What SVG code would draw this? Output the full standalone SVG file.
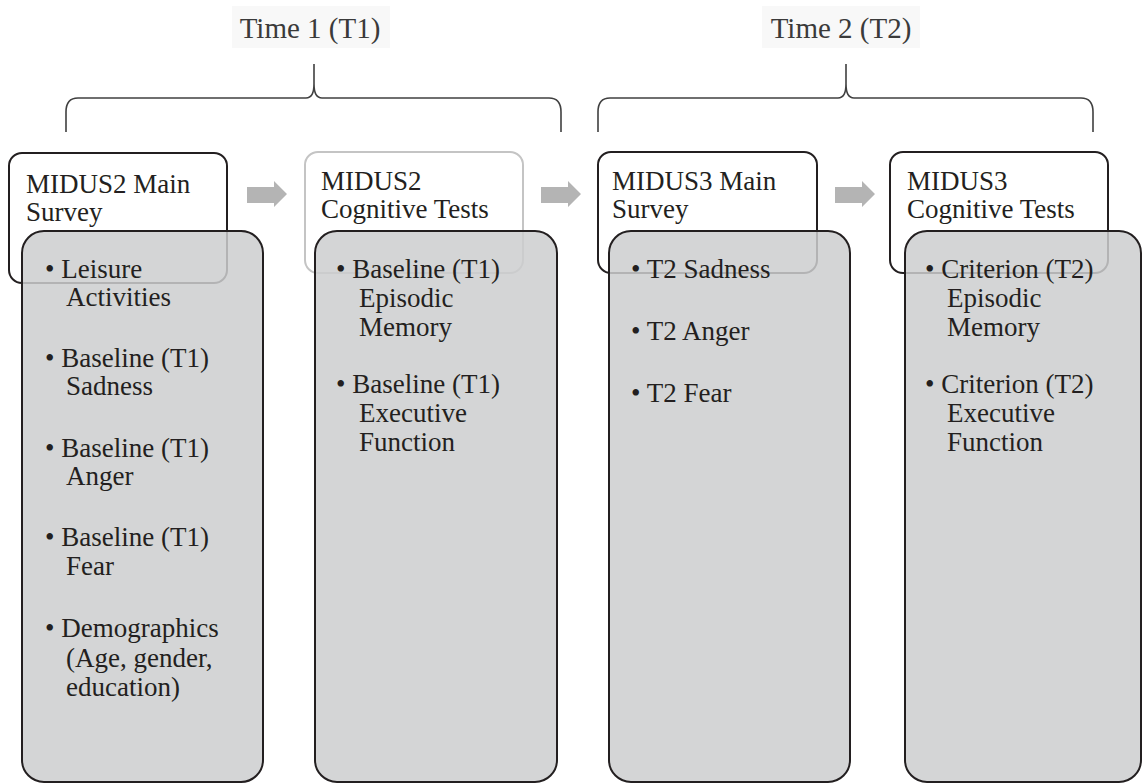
<svg xmlns="http://www.w3.org/2000/svg" width="1142" height="784" viewBox="0 0 1142 784">
<style>
text{font-family:"Liberation Serif","Times New Roman",serif;font-size:27px;fill:#231f20}
.lbl{font-size:29px;fill:#3a3a3a;text-anchor:middle}
.hdr{fill:#ffffff;stroke:#231f20;stroke-width:2}
.hdr2{fill:#ffffff;stroke:#c4c4c4;stroke-width:2}
.body{fill:#cdcecf;fill-opacity:0.85;stroke:#231f20;stroke-width:2}
.brace{fill:none;stroke:#404040;stroke-width:1.6}
.arrow{fill:#b4b4b4}
</style>
<rect width="1142" height="784" fill="#ffffff"/>

<g id="label-t1">
<rect x="232" y="6" width="158" height="42" fill="#f8f8f8"/>
<text class="lbl" x="310" y="38">Time 1 (T1)</text>
</g>
<g id="label-t2">
<rect x="762" y="6" width="158" height="42" fill="#f8f8f8"/>
<text class="lbl" x="841" y="38">Time 2 (T2)</text>
</g>

<g id="brace-t1">
<path class="brace" d="M66,132 L66,112 Q66,98 78,98 L306,98 Q314,98 314,84 L314,64 M314,84 Q314,98 322,98 L549,98 Q561,98 561,112 L561,132"/>
</g>
<g id="brace-t2">
<path class="brace" d="M598,132 L598,112 Q598,98 610,98 L838,98 Q846,98 846,84 L846,64 M846,84 Q846,98 854,98 L1081,98 Q1093,98 1093,112 L1093,132"/>
</g>

<g id="connectors">
<path class="arrow" d="M247,187 L274,187 L274,181 L287,194 L274,207 L274,203 L247,203 Z"/>
<path class="arrow" d="M541,187 L568,187 L568,181 L581,194 L568,207 L568,203 L541,203 Z"/>
<path class="arrow" d="M835,187 L862,187 L862,181 L875,194 L862,207 L862,203 L835,203 Z"/>
</g>

<g id="midus2-main">
<rect class="hdr" x="9" y="153" width="218" height="130" rx="13"/>
<text x="26" y="193">MIDUS2 Main</text>
<text x="26" y="221">Survey</text>
<rect class="body" x="22" y="231" width="241" height="551" rx="22"/>
<text x="45" y="278">• Leisure</text>
<text x="66" y="306">Activities</text>
<text x="45" y="367">• Baseline (T1)</text>
<text x="66" y="395">Sadness</text>
<text x="45" y="457">• Baseline (T1)</text>
<text x="66" y="485">Anger</text>
<text x="45" y="546">• Baseline (T1)</text>
<text x="66" y="575">Fear</text>
<text x="45" y="637">• Demographics</text>
<text x="66" y="667">(Age, gender,</text>
<text x="66" y="696">education)</text>
</g>

<g id="midus2-cognitive">
<rect class="hdr2" x="305" y="152" width="218" height="121" rx="13"/>
<text x="321" y="190">MIDUS2</text>
<text x="321" y="218">Cognitive Tests</text>
<rect class="body" x="315" y="231" width="242" height="551" rx="22"/>
<text x="336" y="278">• Baseline (T1)</text>
<text x="359" y="307">Episodic</text>
<text x="359" y="336">Memory</text>
<text x="336" y="393">• Baseline (T1)</text>
<text x="359" y="422">Executive</text>
<text x="359" y="451">Function</text>
</g>

<g id="midus3-main">
<rect class="hdr" x="598" y="152" width="219" height="121" rx="13"/>
<text x="612" y="190">MIDUS3 Main</text>
<text x="612" y="218">Survey</text>
<rect class="body" x="609" y="231" width="241" height="551" rx="22"/>
<text x="631" y="278">• T2 Sadness</text>
<text x="631" y="340">• T2 Anger</text>
<text x="631" y="402">• T2 Fear</text>
</g>

<g id="midus3-cognitive">
<rect class="hdr" x="890" y="152" width="218" height="121" rx="13"/>
<text x="907" y="190">MIDUS3</text>
<text x="907" y="218">Cognitive Tests</text>
<rect class="body" x="905" y="231" width="236" height="551" rx="22"/>
<text x="925" y="278">• Criterion (T2)</text>
<text x="947" y="307">Episodic</text>
<text x="947" y="336">Memory</text>
<text x="925" y="393">• Criterion (T2)</text>
<text x="947" y="422">Executive</text>
<text x="947" y="451">Function</text>
</g>
</svg>
